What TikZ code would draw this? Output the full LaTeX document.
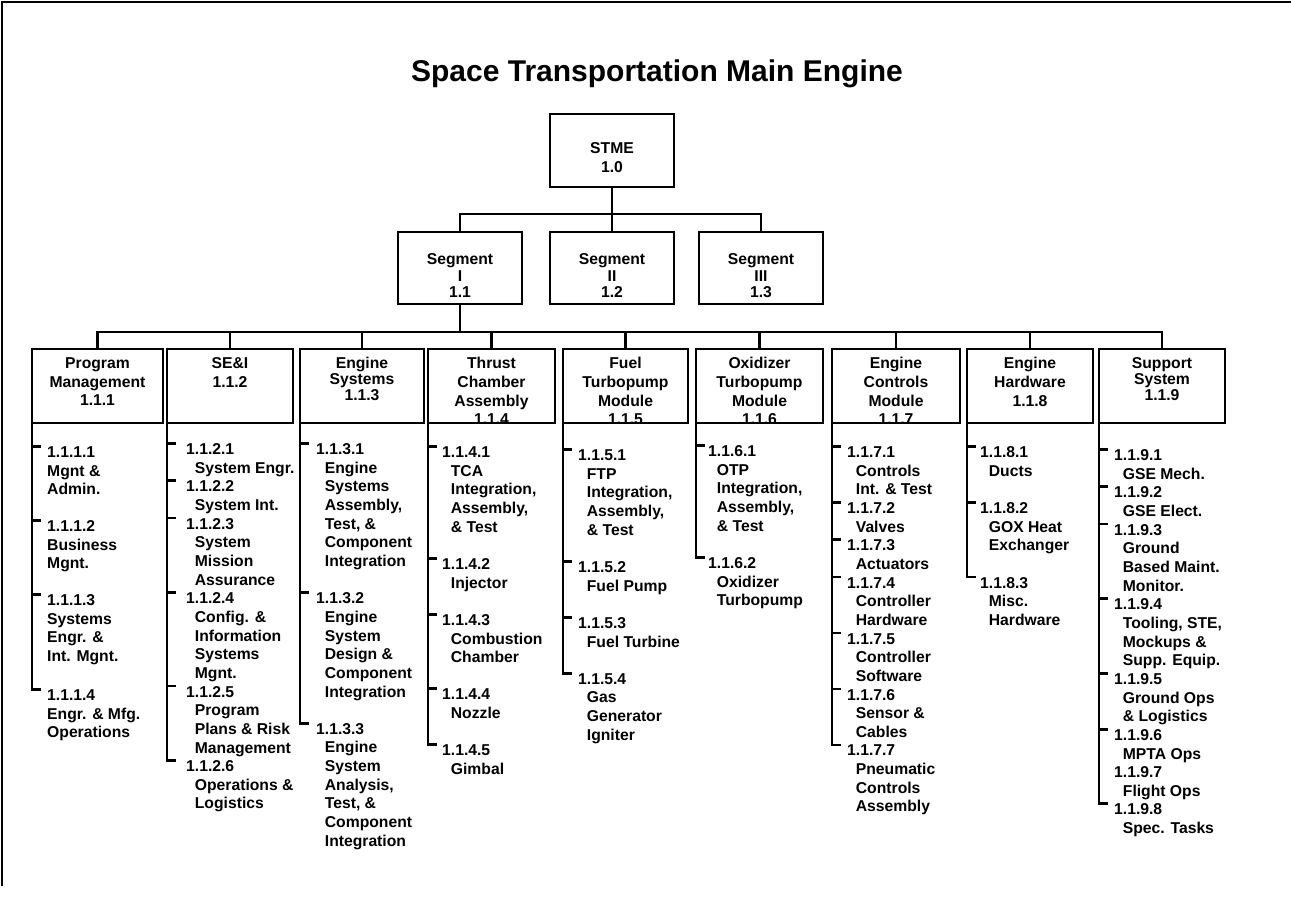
\documentclass[tikz,border=0pt]{standalone}
\usepackage{fontspec}
\setmainfont{Liberation Sans}
\newcommand\bt{\fontsize{15.7pt}{18.65pt}\selectfont\bfseries}
\newcommand\btt{\fontsize{15.7pt}{16pt}\selectfont\bfseries}
\newcommand\bts{\fontsize{15.7pt}{16.5pt}\selectfont\bfseries}
\newcommand\btw{\fontsize{15.7pt}{19pt}\selectfont\bfseries}
\newcommand\ii{\hspace*{8.7pt}}
\begin{document}
\begin{tikzpicture}[x=1pt,y=-1pt,
  conn/.style={line width=2.8pt},
  box/.style={draw, line width=2.8pt, inner sep=0pt, outer sep=0pt, anchor=north},
  lbox/.style={box, minimum height=74pt},
  txt/.style={inner sep=0pt, anchor=north, align=center, font=\bt},
  itm/.style={inner sep=0pt, anchor=north west, align=left, font=\bt}]
\useasboundingbox (0,0) rectangle (1291,901);
\fill[white] (0,0) rectangle (1291,901);
% frame
\coordinate (fa) at (2,886);
\coordinate (fb) at (2,2);
\coordinate (fc) at (1291,2);
\draw[conn] (fa) -- (fb) -- (fc);
% title
\node[anchor=base, inner sep=0pt, font=\fontsize{30pt}{36pt}\selectfont\bfseries] (title) at (657,82) {Space Transportation Main Engine};
% level 0
\node[box, minimum width=124pt, minimum height=73pt] (stme) at (612,114) {};
\node[txt, font=\btw] (stmet) at (612,142.4) {STME\\1.0};
% level 1
\node[box, minimum width=124pt, minimum height=72pt] (s1) at (460,232) {};
\node[box, minimum width=124pt, minimum height=72pt] (s2) at (612,232) {};
\node[box, minimum width=124pt, minimum height=72pt] (s3) at (761,232) {};
\node[txt, font=\bts] (s1t) at (460,253.4) {Segment\\I\\1.1};
\node[txt, font=\bts] (s2t) at (612,253.4) {Segment\\II\\1.2};
\node[txt, font=\bts] (s3t) at (761,253.4) {Segment\\III\\1.3};
\coordinate (j0) at (612,214);
\draw[conn] (stme.south) -- (s2.north);
\draw[conn] (s1.north) |- (j0) -| (s3.north);
% level 2
\node[lbox, minimum width=131pt] (b1) at (97.5,349) {};
\node[lbox, minimum width=126pt] (b2) at (230,349) {};
\node[lbox, minimum width=124pt] (b3) at (362,349) {};
\node[lbox, minimum width=127pt] (b4) at (491.5,349) {};
\node[lbox, minimum width=125pt] (b5) at (625.5,349) {};
\node[lbox, minimum width=127pt] (b6) at (759.5,349) {};
\node[lbox, minimum width=128pt] (b7) at (896,349) {};
\node[lbox, minimum width=126pt] (b8) at (1030,349) {};
\node[lbox, minimum width=126pt] (b9) at (1162,349) {};
\coordinate (j1) at (460,332);
\draw[conn] (s1.south) -- (j1);
\draw[conn] (b1.north) |- (j1) -| (b9.north);
\foreach \k in {2,...,8} \draw[conn] (b\k.north) -- (b\k.north |- j1);
% level 2 texts (clipped to their boxes)
\begin{scope}\clip (b1.south west) rectangle (b1.north east);
\node[txt] (b1t) at (97.5,357.4) {Program\\Management\\1.1.1};\end{scope}
\begin{scope}\clip (b2.south west) rectangle (b2.north east);
\node[txt] (b2t) at (230,357.4) {SE\&I\\1.1.2};\end{scope}
\begin{scope}\clip (b3.south west) rectangle (b3.north east);
\node[txt, font=\btt] (b3t) at (362,357.4) {Engine\\Systems\\1.1.3};\end{scope}
\begin{scope}\clip (b4.south west) rectangle (b4.north east);
\node[txt] (b4t) at (491.5,357.4) {Thrust\\Chamber\\Assembly\\1.1.4};\end{scope}
\begin{scope}\clip (b5.south west) rectangle (b5.north east);
\node[txt] (b5t) at (625.5,357.4) {Fuel\\Turbopump\\Module\\1.1.5};\end{scope}
\begin{scope}\clip (b6.south west) rectangle (b6.north east);
\node[txt] (b6t) at (759.5,357.4) {Oxidizer\\Turbopump\\Module\\1.1.6};\end{scope}
\begin{scope}\clip (b7.south west) rectangle (b7.north east);
\node[txt] (b7t) at (896,357.4) {Engine\\Controls\\Module\\1.1.7};\end{scope}
\begin{scope}\clip (b8.south west) rectangle (b8.north east);
\node[txt] (b8t) at (1030,357.4) {Engine\\Hardware\\1.1.8};\end{scope}
\begin{scope}\clip (b9.south west) rectangle (b9.north east);
\node[txt, font=\btt] (b9t) at (1162,357.4) {Support\\System\\1.1.9};\end{scope}
% column 1
\node[itm] (i11) at (47,446.4) {1.1.1.1\\Mgnt \&\\Admin.};
\node[itm] (i12) at (47,520.4) {1.1.1.2\\Business\\Mgnt.};
\node[itm] (i13) at (47,594.4) {1.1.1.3\\Systems\\Engr. \&\\Int. Mgnt.};
\node[itm] (i14) at (47,689.4) {1.1.1.4\\Engr. \& Mfg.\\Operations};
\draw[conn] (b1.south west) -- (b1.south west |- i14.north) -- ++(9,0);
\foreach \k in {1,2,3} \draw[conn] (b1.south west |- i1\k.north) -- ++(9,0);
% column 2
\node[itm] (i21) at (186,443.4) {1.1.2.1\\\ii System Engr.};
\node[itm] (i22) at (186,480.7) {1.1.2.2\\\ii System Int.};
\node[itm] (i23) at (186,518.0) {1.1.2.3\\\ii System\\\ii Mission\\\ii Assurance};
\node[itm] (i24) at (186,592.6) {1.1.2.4\\\ii Config. \&\\\ii Information\\\ii Systems\\\ii Mgnt.};
\node[itm] (i25) at (186,685.9) {1.1.2.5\\\ii Program\\\ii Plans \& Risk\\\ii Management};
\node[itm] (i26) at (186,760.5) {1.1.2.6\\\ii Operations \&\\\ii Logistics};
\draw[conn] (b2.south west) -- (b2.south west |- i26.north) -- ++(9,0);
\foreach \k in {1,...,5} \draw[conn] (b2.south west |- i2\k.north) -- ++(9,0);
% column 3
\node[itm] (i31) at (316,443.4) {1.1.3.1\\\ii Engine\\\ii Systems\\\ii Assembly,\\\ii Test, \&\\\ii Component\\\ii Integration};
\node[itm] (i32) at (316,592.6) {1.1.3.2\\\ii Engine\\\ii System\\\ii Design \&\\\ii Component\\\ii Integration};
\node[itm] (i33) at (316,723.1) {1.1.3.3\\\ii Engine\\\ii System\\\ii Analysis,\\\ii Test, \&\\\ii Component\\\ii Integration};
\draw[conn] (b3.south west) -- (b3.south west |- i33.north) -- ++(9,0);
\foreach \k in {1,2} \draw[conn] (b3.south west |- i3\k.north) -- ++(9,0);
% column 4
\node[itm] (i41) at (442,446.4) {1.1.4.1\\\ii TCA\\\ii Integration,\\\ii Assembly,\\\ii \& Test};
\node[itm] (i42) at (442,558.3) {1.1.4.2\\\ii Injector};
\node[itm] (i43) at (442,614.2) {1.1.4.3\\\ii Combustion\\\ii Chamber};
\node[itm] (i44) at (442,688.8) {1.1.4.4\\\ii Nozzle};
\node[itm] (i45) at (442,744.8) {1.1.4.5\\\ii Gimbal};
\draw[conn] (b4.south west) -- (b4.south west |- i45.north) -- ++(9,0);
\foreach \k in {1,...,4} \draw[conn] (b4.south west |- i4\k.north) -- ++(9,0);
% column 5
\node[itm] (i51) at (578,449.4) {1.1.5.1\\\ii FTP\\\ii Integration,\\\ii Assembly,\\\ii \& Test};
\node[itm] (i52) at (578,561.3) {1.1.5.2\\\ii Fuel Pump};
\node[itm] (i53) at (578,617.2) {1.1.5.3\\\ii Fuel Turbine};
\node[itm] (i54) at (578,673.2) {1.1.5.4\\\ii Gas\\\ii Generator\\\ii Igniter};
\draw[conn] (b5.south west) -- (b5.south west |- i54.north) -- ++(9,0);
\foreach \k in {1,2,3} \draw[conn] (b5.south west |- i5\k.north) -- ++(9,0);
% column 6
\node[itm] (i61) at (708,445.4) {1.1.6.1\\\ii OTP\\\ii Integration,\\\ii Assembly,\\\ii \& Test};
\node[itm] (i62) at (708,557.3) {1.1.6.2\\\ii Oxidizer\\\ii Turbopump};
\draw[conn] (b6.south west) -- (b6.south west |- i62.north) -- ++(9,0);
\draw[conn] (b6.south west |- i61.north) -- ++(9,0);
% column 7
\node[itm] (i71) at (847,446.4) {1.1.7.1\\\ii Controls\\\ii Int. \& Test};
\node[itm] (i72) at (847,502.4) {1.1.7.2\\\ii Valves};
\node[itm] (i73) at (847,539.7) {1.1.7.3\\\ii Actuators};
\node[itm] (i74) at (847,577.0) {1.1.7.4\\\ii Controller\\\ii Hardware};
\node[itm] (i75) at (847,633.0) {1.1.7.5\\\ii Controller\\\ii Software};
\node[itm] (i76) at (847,688.9) {1.1.7.6\\\ii Sensor \&\\\ii Cables};
\node[itm] (i77) at (847,744.9) {1.1.7.7\\\ii Pneumatic\\\ii Controls\\\ii Assembly};
\draw[conn] (b7.south west) -- (b7.south west |- i77.north) -- ++(9,0);
\foreach \k in {1,...,6} \draw[conn] (b7.south west |- i7\k.north) -- ++(9,0);
% column 8
\node[itm] (i81) at (980,446.4) {1.1.8.1\\\ii Ducts};
\node[itm] (i82) at (980,502.4) {1.1.8.2\\\ii GOX Heat\\\ii Exchanger};
\node[itm] (i83) at (980,577.0) {1.1.8.3\\\ii Misc.\\\ii Hardware};
\draw[conn] (b8.south west) -- (b8.south west |- i83.north) -- ++(9,0);
\foreach \k in {1,2} \draw[conn] (b8.south west |- i8\k.north) -- ++(9,0);
% column 9
\node[itm] (i91) at (1114,449.4) {1.1.9.1\\\ii GSE Mech.};
\node[itm] (i92) at (1114,486.7) {1.1.9.2\\\ii GSE Elect.};
\node[itm] (i93) at (1114,524.0) {1.1.9.3\\\ii Ground\\\ii Based Maint.\\\ii Monitor.};
\node[itm] (i94) at (1114,598.6) {1.1.9.4\\\ii Tooling, STE,\\\ii Mockups \&\\\ii Supp. Equip.};
\node[itm] (i95) at (1114,673.2) {1.1.9.5\\\ii Ground Ops\\\ii \& Logistics};
\node[itm] (i96) at (1114,729.2) {1.1.9.6\\\ii MPTA Ops};
\node[itm] (i97) at (1114,766.5) {1.1.9.7\\\ii Flight Ops};
\node[itm] (i98) at (1114,803.8) {1.1.9.8\\\ii Spec. Tasks};
\draw[conn] (b9.south west) -- (b9.south west |- i98.north) -- ++(9,0);
\foreach \k in {1,...,6} \draw[conn] (b9.south west |- i9\k.north) -- ++(9,0);
\end{tikzpicture}
\end{document}
